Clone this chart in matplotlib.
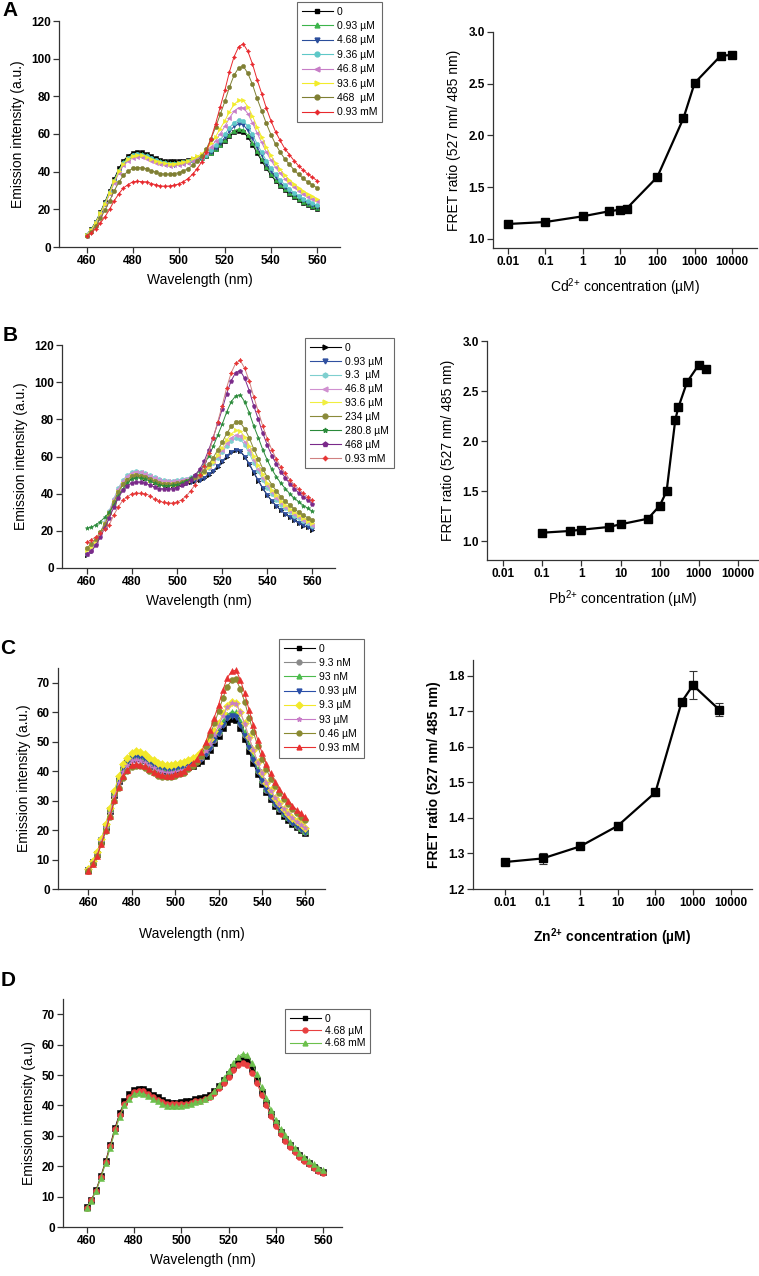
import matplotlib
matplotlib.use('Agg')
import matplotlib.pyplot as plt
from matplotlib.ticker import NullLocator

plt.rcParams['font.family'] = ['Liberation Sans', 'DejaVu Sans']
plt.rcParams['mathtext.fontset'] = 'custom'
plt.rcParams['mathtext.rm'] = 'Liberation Sans'
plt.rcParams['mathtext.bf'] = 'Liberation Sans:bold'

# ---------------- data ----------------
wavelength = list(range(460, 561, 2))

# Panel A (Cd2+)
a_labels = ['0', '0.93 µM', '4.68 µM', '9.36 µM', '46.8 µM', '93.6 µM', '468  µM', '0.93 mM']
a_0 = [6.5, 9.5, 13.5, 18.5, 24, 30, 36.2, 41.7, 45.9, 48.4, 50.1, 50.6, 50.4, 49.6, 48.3, 47.3, 46.3, 45.8, 45.5, 45.4, 45.6, 45.9, 46.2, 46.7, 47.1, 47.6, 48.4, 50.1, 51.9, 54.1, 56.3, 58.9, 61.0, 61.8, 61.3, 58.3, 54.4, 49.9, 45.8, 41.7, 38.2, 35.1, 32.6, 30.2, 28.4, 26.5, 25.0, 23.6, 22.3, 21.2, 20.2]
a_1 = [6.4, 9.3, 13.2, 18.1, 23.5, 29.4, 35.5, 40.9, 45.0, 47.4, 49.1, 49.6, 49.4, 48.6, 47.4, 46.4, 45.4, 44.9, 44.7, 44.6, 44.8, 45.1, 45.5, 46.0, 46.5, 47.1, 48.1, 49.9, 51.9, 54.3, 56.8, 59.6, 61.8, 62.7, 62.3, 59.3, 55.4, 50.8, 46.6, 42.5, 38.8, 35.7, 33.1, 30.8, 28.8, 26.9, 25.4, 24.0, 22.6, 21.6, 20.5]
a_2 = [6.2, 9.1, 13.0, 17.8, 23.0, 28.8, 34.8, 40.0, 44.1, 46.5, 48.2, 48.7, 48.5, 47.7, 46.5, 45.5, 44.6, 44.1, 43.8, 43.8, 44.0, 44.5, 44.9, 45.5, 46.1, 46.9, 48.2, 50.3, 52.6, 55.4, 58.2, 61.4, 64.0, 65.3, 64.9, 61.9, 57.8, 53.0, 48.6, 44.2, 40.5, 37.2, 34.4, 32.0, 29.9, 28.0, 26.4, 25.0, 23.6, 22.5, 21.3]
a_3 = [6.3, 9.2, 13.1, 17.9, 23.3, 29.1, 35.1, 40.5, 44.6, 47.1, 48.7, 49.2, 49.0, 48.2, 47.0, 46.0, 45.0, 44.6, 44.3, 44.3, 44.5, 45.0, 45.5, 46.2, 46.8, 47.7, 49.1, 51.3, 53.9, 56.9, 59.9, 63.3, 66.1, 67.4, 67.1, 64.0, 59.8, 54.8, 50.3, 45.8, 41.8, 38.5, 35.6, 33.1, 31.0, 28.9, 27.3, 25.7, 24.4, 23.2, 22.1]
a_4 = [6.1, 8.9, 12.7, 17.4, 22.6, 28.2, 34.1, 39.3, 43.3, 45.6, 47.3, 47.8, 47.6, 46.9, 45.8, 44.8, 43.9, 43.5, 43.2, 43.3, 43.6, 44.2, 44.8, 45.7, 46.7, 48.0, 50.0, 53.0, 56.4, 60.2, 64.1, 68.5, 72.1, 74.0, 74.0, 70.8, 66.0, 60.5, 55.5, 50.5, 46.1, 42.3, 39.1, 36.3, 34.0, 31.8, 29.9, 28.3, 26.7, 25.5, 24.3]
a_5 = [6.2, 9.1, 13.0, 17.8, 23.0, 28.8, 34.9, 40.1, 44.3, 46.7, 48.4, 48.9, 48.7, 48.0, 46.8, 45.8, 44.9, 44.4, 44.2, 44.2, 44.6, 45.3, 45.9, 47.0, 48.1, 49.5, 51.7, 55.0, 58.6, 62.9, 67.0, 71.8, 75.7, 77.9, 77.9, 74.5, 69.6, 63.7, 58.5, 53.1, 48.6, 44.6, 41.2, 38.2, 35.8, 33.5, 31.5, 29.8, 28.2, 26.9, 25.6]
a_6 = [6.0, 7.8, 11.1, 15.2, 19.7, 24.6, 29.9, 34.4, 38.1, 40.2, 41.8, 42.2, 42.0, 41.6, 40.5, 39.7, 38.9, 38.7, 38.7, 38.9, 39.5, 40.4, 41.6, 43.3, 45.5, 48.2, 52.1, 57.5, 63.6, 70.4, 77.3, 84.9, 91.2, 95.1, 96.0, 92.2, 86.3, 78.9, 72.3, 65.6, 59.7, 54.6, 50.5, 46.8, 43.9, 41.0, 38.5, 36.5, 34.5, 33.0, 31.4]
a_7 = [6.0, 7.5, 9.8, 12.8, 16.1, 20.1, 24.6, 28.3, 31.4, 33.1, 34.6, 34.9, 34.7, 34.6, 33.7, 33.1, 32.4, 32.3, 32.4, 32.8, 33.5, 34.7, 36.3, 38.6, 41.6, 45.3, 50.5, 57.6, 65.5, 74.4, 83.2, 93.0, 101.0, 106.3, 107.9, 103.9, 97.2, 88.9, 81.5, 73.8, 67.1, 61.3, 56.6, 52.3, 49.1, 45.9, 43.1, 40.9, 38.7, 37.0, 35.3]

# Panel B (Pb2+)
b_labels = ['0', '0.93 µM', '9.3  µM', '46.8 µM', '93.6 µM', '234 µM', '280.8 µM', '468 µM', '0.93 mM']
b_0 = [7.0, 9.3, 13.2, 18.1, 23.5, 29.4, 35.5, 40.9, 45.0, 47.4, 49.1, 49.6, 49.4, 48.6, 47.4, 46.4, 45.4, 45.0, 44.7, 44.6, 44.8, 45.2, 45.5, 46.1, 46.6, 47.2, 48.2, 50.1, 52.1, 54.6, 57.1, 60.0, 62.3, 63.3, 62.8, 59.8, 55.9, 51.2, 47.0, 42.8, 39.2, 36.0, 33.4, 31.0, 29.0, 27.2, 25.6, 24.1, 22.8, 21.8, 20.7]
b_1 = [7.5, 9.4, 13.3, 18.3, 23.7, 29.7, 35.9, 41.3, 45.5, 47.9, 49.6, 50.1, 49.9, 49.1, 47.9, 46.9, 45.9, 45.4, 45.1, 45.0, 45.2, 45.6, 45.9, 46.5, 47.0, 47.6, 48.6, 50.5, 52.4, 54.9, 57.4, 60.3, 62.5, 63.5, 63.0, 60.0, 56.1, 51.4, 47.2, 42.9, 39.3, 36.1, 33.5, 31.1, 29.1, 27.3, 25.7, 24.2, 22.9, 21.9, 20.8]
b_2 = [7.5, 9.8, 13.9, 19.1, 24.7, 30.9, 37.3, 43.0, 47.4, 49.9, 51.7, 52.2, 51.9, 51.2, 49.9, 48.9, 47.9, 47.3, 47.0, 47.0, 47.3, 47.7, 48.1, 48.8, 49.4, 50.3, 51.6, 53.9, 56.3, 59.3, 62.2, 65.7, 68.4, 69.8, 69.4, 66.2, 61.7, 56.5, 52.0, 47.3, 43.3, 39.7, 36.8, 34.1, 32.1, 30.0, 28.2, 26.7, 25.1, 24.0, 22.8]
b_3 = [7.5, 9.7, 13.8, 18.9, 24.5, 30.6, 37.0, 42.6, 46.9, 49.5, 51.2, 51.8, 51.5, 50.7, 49.5, 48.4, 47.4, 46.9, 46.6, 46.6, 46.9, 47.4, 47.9, 48.6, 49.3, 50.3, 51.8, 54.2, 56.9, 60.1, 63.3, 67.0, 70.0, 71.5, 71.2, 67.9, 63.4, 58.1, 53.3, 48.6, 44.4, 40.8, 37.7, 35.0, 32.9, 30.7, 28.9, 27.3, 25.8, 24.6, 23.4]
b_4 = [9.5, 11.5, 14.5, 18.8, 23.5, 29.4, 35.6, 41.0, 45.1, 47.5, 49.3, 49.8, 49.6, 48.9, 47.6, 46.7, 45.7, 45.2, 45.0, 45.0, 45.3, 45.8, 46.4, 47.3, 48.2, 49.4, 51.2, 54.1, 57.2, 60.9, 64.6, 68.8, 72.2, 74.0, 73.8, 70.5, 65.9, 60.3, 55.4, 50.4, 46.0, 42.2, 39.1, 36.3, 34.0, 31.8, 29.9, 28.3, 26.7, 25.5, 24.3]
b_5 = [11.0, 12.8, 15.5, 19.5, 23.5, 29.4, 35.6, 41.0, 45.2, 47.6, 49.4, 49.9, 49.7, 49.0, 47.8, 46.8, 45.8, 45.3, 45.1, 45.1, 45.5, 46.1, 46.7, 47.8, 48.9, 50.3, 52.4, 55.7, 59.3, 63.5, 67.6, 72.4, 76.2, 78.3, 78.3, 74.9, 70.0, 64.0, 58.8, 53.4, 48.8, 44.8, 41.5, 38.4, 36.0, 33.7, 31.7, 30.0, 28.3, 27.0, 25.8]
b_6 = [21.4, 22.0, 23.2, 25.0, 27.3, 30.0, 34.0, 38.5, 42.5, 45.5, 48.1, 48.6, 48.4, 47.8, 46.6, 45.7, 44.7, 44.3, 44.2, 44.4, 44.9, 45.7, 46.8, 48.2, 50.0, 52.2, 55.4, 60.2, 65.4, 71.4, 77.3, 84.0, 89.5, 92.7, 93.2, 89.4, 83.5, 76.4, 70.2, 63.6, 58.0, 53.1, 49.1, 45.6, 42.7, 39.9, 37.5, 35.6, 33.6, 32.1, 30.5]
b_7 = [7.5, 9.0, 12.2, 16.7, 21.6, 27.0, 32.8, 37.8, 41.8, 44.1, 45.9, 46.3, 46.1, 45.6, 44.5, 43.6, 42.7, 42.5, 42.4, 42.7, 43.3, 44.4, 45.7, 47.6, 50.0, 53.1, 57.4, 63.5, 70.2, 77.8, 85.4, 93.9, 100.8, 105.2, 106.2, 102.0, 95.4, 87.2, 80.0, 72.5, 66.1, 60.4, 55.9, 51.7, 48.5, 45.3, 42.6, 40.4, 38.2, 36.5, 34.7]
b_8 = [13.8, 15.2, 16.8, 18.6, 20.8, 23.4, 28.6, 32.9, 36.5, 38.4, 40.0, 40.4, 40.2, 39.9, 39.0, 37.0, 36.0, 35.3, 35.0, 35.0, 35.5, 36.7, 38.6, 41.5, 44.8, 49.9, 55.1, 62.1, 69.8, 78.6, 87.3, 97.1, 105.1, 110.2, 111.7, 107.4, 100.6, 92.0, 84.3, 76.3, 69.4, 63.6, 58.7, 54.2, 50.9, 47.5, 44.7, 42.4, 40.1, 38.3, 36.5]

# Panel C (Zn2+)
c_labels = ['0', '9.3 nM', '93 nM', '0.93 µM', '9.3 µM', '93 µM', '0.46 µM', '0.93 mM']
c_0 = [6.5, 9.0, 11.9, 16.3, 21.1, 26.4, 31.9, 36.7, 40.4, 42.6, 44.2, 44.6, 44.4, 43.7, 42.6, 41.7, 40.8, 40.4, 40.1, 40.1, 40.3, 40.6, 40.9, 41.5, 41.9, 42.6, 43.5, 45.2, 47.2, 49.5, 51.8, 54.5, 56.7, 57.6, 57.3, 54.5, 50.9, 46.7, 42.8, 39.0, 35.7, 32.8, 30.4, 28.2, 26.5, 24.8, 23.3, 22.0, 20.9, 19.9, 18.9]
c_1 = [6.6, 9.1, 12.0, 16.5, 21.3, 26.7, 32.3, 37.1, 40.9, 43.1, 44.7, 45.1, 44.9, 44.2, 43.1, 42.2, 41.3, 40.9, 40.6, 40.6, 40.8, 41.1, 41.5, 42.1, 42.5, 43.3, 44.3, 46.1, 48.2, 50.7, 53.1, 56.0, 58.3, 59.3, 59.0, 56.1, 52.4, 48.1, 44.1, 40.1, 36.8, 33.7, 31.3, 29.0, 27.3, 25.5, 24.0, 22.6, 21.5, 20.5, 19.5]
c_2 = [6.7, 9.3, 12.3, 16.9, 21.8, 27.3, 33.0, 38.0, 41.8, 44.1, 45.7, 46.1, 45.9, 45.2, 44.1, 43.1, 42.2, 41.8, 41.5, 41.5, 41.7, 42.0, 42.4, 43.0, 43.4, 44.2, 45.2, 47.0, 49.1, 51.6, 54.0, 56.9, 59.2, 60.2, 59.9, 57.0, 53.3, 48.9, 44.8, 40.8, 37.3, 34.3, 31.8, 29.5, 27.7, 25.9, 24.4, 23.0, 21.9, 20.8, 19.8]
c_3 = [6.6, 9.1, 12.0, 16.5, 21.3, 26.7, 32.3, 37.1, 40.9, 43.1, 44.7, 45.1, 44.9, 44.2, 43.1, 42.2, 41.3, 40.9, 40.6, 40.6, 40.8, 41.1, 41.4, 42.0, 42.5, 43.2, 44.1, 45.9, 48.0, 50.4, 52.8, 55.6, 57.9, 58.8, 58.5, 55.7, 52.0, 47.7, 43.7, 39.8, 36.5, 33.5, 31.0, 28.8, 27.0, 25.3, 23.8, 22.4, 21.3, 20.3, 19.3]
c_4 = [6.8, 9.4, 12.4, 17.0, 22.1, 27.6, 33.4, 38.4, 42.3, 44.6, 46.3, 46.7, 46.5, 45.8, 44.6, 43.7, 42.7, 42.3, 42.0, 42.0, 42.3, 42.6, 43.0, 43.7, 44.3, 45.2, 46.4, 48.4, 50.8, 53.6, 56.4, 59.6, 62.2, 63.4, 63.1, 60.1, 56.2, 51.5, 47.2, 43.0, 39.3, 36.1, 33.5, 31.0, 29.2, 27.3, 25.6, 24.2, 23.0, 21.9, 20.8]
c_5 = [6.4, 8.8, 11.6, 15.9, 20.6, 25.8, 31.2, 35.9, 39.6, 41.7, 43.3, 43.7, 43.5, 42.8, 41.8, 40.9, 40.0, 39.7, 39.4, 39.4, 39.7, 40.1, 40.5, 41.3, 42.0, 43.0, 44.4, 46.7, 49.3, 52.3, 55.3, 58.8, 61.6, 63.0, 62.9, 59.9, 56.0, 51.4, 47.1, 42.8, 39.2, 35.9, 33.3, 30.9, 29.0, 27.1, 25.5, 24.1, 22.9, 21.8, 20.7]
c_6 = [6.1, 8.4, 11.1, 15.2, 19.7, 24.6, 29.8, 34.3, 37.8, 39.9, 41.5, 41.8, 41.6, 41.1, 40.1, 39.2, 38.4, 38.1, 37.9, 38.0, 38.4, 38.9, 39.5, 40.6, 41.7, 43.2, 45.3, 48.5, 52.1, 56.2, 60.3, 64.9, 68.7, 70.8, 71.1, 67.9, 63.5, 58.2, 53.3, 48.5, 44.2, 40.6, 37.5, 34.8, 32.6, 30.5, 28.7, 27.1, 25.7, 24.6, 23.4]
c_7 = [6.2, 8.5, 11.2, 15.4, 19.9, 24.9, 30.2, 34.7, 38.3, 40.4, 42.0, 42.4, 42.2, 41.6, 40.6, 39.7, 38.9, 38.6, 38.4, 38.5, 38.9, 39.5, 40.2, 41.4, 42.6, 44.2, 46.5, 49.9, 53.8, 58.2, 62.6, 67.6, 71.7, 73.9, 74.3, 71.0, 66.4, 60.8, 55.7, 50.6, 46.2, 42.4, 39.2, 36.3, 34.1, 31.9, 30.0, 28.3, 26.9, 25.7, 24.4]

# Panel D
d_labels = ['0', '4.68 µM', '4.68 mM']
d_0 = [6.5, 9.0, 12.2, 16.7, 21.6, 27.0, 32.6, 37.5, 41.3, 43.6, 45.1, 45.5, 45.3, 44.6, 43.5, 42.6, 41.7, 41.2, 40.9, 40.9, 41.0, 41.3, 41.6, 42.0, 42.3, 42.8, 43.5, 44.9, 46.5, 48.4, 50.4, 52.7, 54.5, 55.2, 54.7, 52.0, 48.5, 44.5, 40.9, 37.3, 34.1, 31.3, 29.1, 27.0, 25.3, 23.7, 22.3, 21.1, 19.9, 18.9, 18.0]
d_1 = [6.4, 8.9, 12.0, 16.4, 21.3, 26.6, 32.1, 36.9, 40.6, 42.9, 44.4, 44.8, 44.6, 43.9, 42.8, 41.9, 41.0, 40.6, 40.3, 40.3, 40.3, 40.6, 40.9, 41.3, 41.6, 42.0, 42.7, 44.0, 45.6, 47.4, 49.3, 51.5, 53.3, 53.9, 53.4, 50.8, 47.4, 43.5, 40.0, 36.4, 33.3, 30.6, 28.4, 26.4, 24.7, 23.1, 21.8, 20.6, 19.4, 18.5, 17.6]
d_2 = [6.3, 8.7, 11.8, 16.1, 20.9, 26.1, 31.5, 36.3, 40.0, 42.2, 43.7, 44.0, 43.9, 43.2, 42.1, 41.3, 40.4, 39.9, 39.7, 39.7, 39.8, 40.1, 40.5, 41.0, 41.5, 42.1, 43.1, 44.7, 46.7, 48.9, 51.2, 53.9, 56.0, 57.0, 56.6, 53.9, 50.3, 46.1, 42.4, 38.6, 35.3, 32.3, 30.1, 27.9, 26.1, 24.5, 23.0, 21.8, 20.6, 19.5, 18.6]

# FRET ratio panels
cd_conc = [0.01, 0.1, 1, 5, 10, 15, 100, 500, 1000, 5000, 10000]
cd_ratio = [1.145, 1.164, 1.219, 1.267, 1.283, 1.293, 1.599, 2.166, 2.507, 2.771, 2.778]
pb_conc = [0.1, 0.5, 1, 5, 10, 50, 100, 150, 250, 300, 500, 1000, 1500]
pb_ratio = [1.083, 1.100, 1.113, 1.140, 1.167, 1.223, 1.353, 1.497, 2.213, 2.337, 2.590, 2.763, 2.717]
zn_conc = [0.01, 0.1, 1, 10, 100, 500, 1000, 5000]
zn_ratio = [1.276, 1.286, 1.320, 1.378, 1.472, 1.727, 1.774, 1.705]
zn_err = [0.008, 0.016, 0.004, 0.008, 0.004, 0.006, 0.040, 0.019]

conc_ticks = [0.01, 0.1, 1, 10, 100, 1000, 10000]
conc_ticklabels = ['0.01', '0.1', '1', '10', '100', '1000', '10000']
wl_ticks = [460, 480, 500, 520, 540, 560]

# ---------------- figure ----------------
W, H = 759, 1276
fig = plt.figure(figsize=(W / 100, H / 100), dpi=100)
AX = '#333333'


def add_ax(l, t, r, b):
    return fig.add_axes([l / W, 1 - b / H, (r - l) / W, (b - t) / H])


def style(ax):
    for s in ('top', 'right'):
        ax.spines[s].set_visible(False)
    for s in ('left', 'bottom'):
        ax.spines[s].set_linewidth(0.9)
        ax.spines[s].set_color(AX)
    ax.tick_params(direction='out', length=4, width=0.9, color=AX, labelsize=8.5, pad=2)
    for t in ax.get_xticklabels() + ax.get_yticklabels():
        t.set_fontweight('bold')


def spectra(ax, series, styles, labels, xlim, ylim, yticks, ylabel, leg_box, ms, lsp):
    handles = []
    for vals, (col, mk, lcol), lab in zip(series, styles, labels):
        ax.plot(wavelength, vals, color=lcol, lw=0.7, marker=mk, ms=ms,
                mfc=col, mec=col, mew=0.4, clip_on=False)
        h, = ax.plot([], [], color=lcol, lw=0.8, marker=mk, ms=3.5, mfc=col, mec=col, label=lab)
        handles.append(h)
    ax.set_xlim(*xlim)
    ax.set_ylim(*ylim)
    ax.set_xticks(wl_ticks)
    ax.set_yticks(yticks)
    style(ax)
    ax.set_xlabel('Wavelength (nm)', fontsize=10, labelpad=4)
    ax.set_ylabel(ylabel, fontsize=10, labelpad=4)
    lx, ly = leg_box
    leg = ax.legend(handles=handles, loc='upper left', bbox_to_anchor=(lx / W, 1 - ly / H),
                    bbox_transform=fig.transFigure, fontsize=7.5, frameon=True, fancybox=False,
                    edgecolor='#444444', handlelength=3.0, handletextpad=0.4,
                    labelspacing=lsp, borderpad=0.45, borderaxespad=0, numpoints=1)
    leg.get_frame().set_linewidth(0.8)
    return ax


def fret(ax, x, y, xlim, ylim, yticks, xlabel, bold, yerr=None):
    if yerr is None:
        ax.plot(x, y, color='black', lw=1.6, marker='s', ms=5.5, clip_on=False)
    else:
        ax.errorbar(x, y, yerr=yerr, color='black', lw=1.6, marker='s', ms=5.5,
                    capsize=3, elinewidth=0.8, capthick=0.8, ecolor='#333333')
    ax.set_xscale('log')
    ax.set_xlim(*xlim)
    ax.set_ylim(*ylim)
    ax.set_xticks(conc_ticks)
    ax.set_xticklabels(conc_ticklabels)
    ax.xaxis.set_minor_locator(NullLocator())
    ax.set_yticks(yticks)
    ax.set_yticklabels(['%.1f' % v for v in yticks])
    style(ax)
    w = 'bold' if bold else 'normal'
    ax.set_xlabel(xlabel, fontsize=10, fontweight=w, labelpad=6)
    ax.set_ylabel('FRET ratio (527 nm/ 485 nm)', fontsize=10, fontweight=w, labelpad=5)


# Panel A
a_styles = [('black', 's', 'black'), ('#3cb44b', '^', '#3cb44b'), ('#2a4d9b', 'v', '#2a4d9b'),
            ('#5ec8c8', 'o', '#5ec8c8'), ('#c77dc7', '<', '#c77dc7'), ('#f2ec2a', '>', '#f2ec2a'),
            ('#7f7f33', 'o', '#7f7f33'), ('#e8292e', (4, 1, 0), '#e8292e')]
axA = add_ax(59, 21, 340, 247)
spectra(axA, [a_0, a_1, a_2, a_3, a_4, a_5, a_6, a_7], a_styles, a_labels,
        (448, 570), (0, 120), [0, 20, 40, 60, 80, 100, 120], 'Emission intensity (a.u.)',
        (297, 2), 3.0, 0.42)

# Panel B
b_styles = [('black', '>', 'black'), ('#3050a0', 'v', '#3050a0'), ('#7fcfcf', 'h', '#7fcfcf'),
            ('#d090d0', '<', '#d090d0'), ('#f0ee40', '>', '#f0ee40'), ('#8a8a3a', 'o', '#8a8a3a'),
            ('#2a8a3a', '*', '#2a8a3a'), ('#7a2a8a', 'p', '#7a2a8a'), ('#e83535', (4, 1, 0), '#d08080')]
axB = add_ax(62, 345, 335, 568)
spectra(axB, [b_0, b_1, b_2, b_3, b_4, b_5, b_6, b_7, b_8], b_styles, b_labels,
        (449, 570), (0, 120), [0, 20, 40, 60, 80, 100, 120], 'Emission intensity (a.u.)',
        (305, 338), 3.2, 0.37)

# Panel C
c_styles = [('black', 's', 'black'), ('#8a8a8a', 'o', '#8a8a8a'), ('#4cbb4c', '^', '#4cbb4c'),
            ('#2a4fa8', 'v', '#2a4fa8'), ('#f2e82a', 'D', '#f2e82a'), ('#c87cc8', '*', '#c87cc8'),
            ('#8a8a30', 'o', '#8a8a30'), ('#e83030', '^', '#e83030')]
axC = add_ax(58, 668, 325, 889)
spectra(axC, [c_0, c_1, c_2, c_3, c_4, c_5, c_6, c_7], c_styles, c_labels,
        (446, 569), (0, 75), [0, 10, 20, 30, 40, 50, 60, 70], 'Emission intensity (a.u.)',
        (279, 639), 4.2, 0.4)
axC.xaxis.labelpad = 13

# Panel D
d_styles = [('black', 's', 'black'), ('#e84040', 'o', '#e84040'), ('#6cc04c', '^', '#6cc04c')]
axD = add_ax(63, 999, 342, 1227)
spectra(axD, [d_0, d_1, d_2], d_styles, d_labels,
        (450, 568), (0, 75), [0, 10, 20, 30, 40, 50, 60, 70], 'Emission intensity (a.u)',
        (285, 1009), 4.2, 0.22)

# FRET ratio panels
axAr = add_ax(493, 32, 757, 248)
fret(axAr, cd_conc, cd_ratio, (10 ** -2.4, 10 ** 4.67), (0.913, 3.0), [1.0, 1.5, 2.0, 2.5, 3.0],
     'Cd$^{\\mathregular{2{+}}}$ concentration (µM)', False)

axBr = add_ax(487, 341, 758, 560)
fret(axBr, pb_conc, pb_ratio, (10 ** -2.41, 10 ** 4.51), (0.81, 3.0), [1.0, 1.5, 2.0, 2.5, 3.0],
     'Pb$^{\\mathregular{2{+}}}$ concentration (µM)', False)

axCr = add_ax(473, 660, 752, 889)
fret(axCr, zn_conc, zn_ratio, (10 ** -2.85, 10 ** 4.57), (1.2, 1.845),
     [1.2, 1.3, 1.4, 1.5, 1.6, 1.7, 1.8], 'Zn$^{\\mathregular{2{+}}}$ concentration (µM)', True,
     yerr=zn_err)
axCr.xaxis.labelpad = 12

# Panel letters
for lab, x, y in [('A', 10, 11), ('B', 10, 335), ('C', 8, 649), ('D', 8, 981)]:
    fig.text(x / W, 1 - y / H, lab, fontsize=15, fontweight='bold', ha='center', va='center')

fig.savefig('out.png', dpi=100)
